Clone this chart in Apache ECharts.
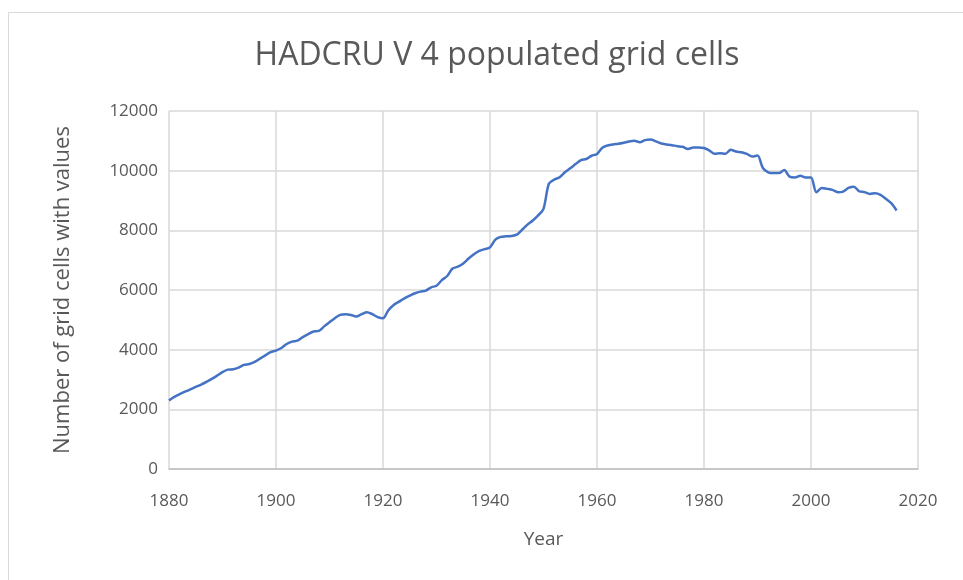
<!DOCTYPE html>
<html>
<head>
<meta charset="utf-8">
<script src="https://cdn.jsdelivr.net/npm/echarts@6/dist/echarts.min.js"></script>
<style>html,body{margin:0;padding:0;background:#fff}#c{width:963px;height:580px}</style>
</head>
<body>
<div id="c"></div>
<script>
const titleText = 'HADCRU V 4 populated grid cells';
const xName = 'Year';
const yName = 'Number of grid cells with values';
const startYear = 1880;
const cellCounts = [
  2300, 2420, 2510, 2590, 2670, 2750, 2830, 2920, 3020, 3130,
  3250, 3330, 3345, 3400, 3490, 3520, 3590, 3700, 3810, 3920,
  3970, 4055, 4190, 4270, 4300, 4420, 4520, 4610, 4630, 4780,
  4920, 5055, 5165, 5190, 5165, 5110, 5190, 5255, 5190, 5090,
  5050, 5320, 5500, 5610, 5720, 5810, 5890, 5945, 5980, 6090,
  6145, 6330, 6470, 6720, 6780, 6890, 7055, 7200, 7310, 7370,
  7430, 7690, 7780, 7800, 7810, 7855, 8020, 8190, 8330, 8500,
  8720, 9560, 9700, 9780, 9945, 10080, 10220, 10355, 10390, 10500,
  10560, 10770, 10845, 10880, 10900, 10935, 10980, 11000, 10955, 11025,
  11045, 10980, 10910, 10880, 10855, 10820, 10800, 10730, 10775, 10775,
  10760, 10675, 10565, 10585, 10565, 10700, 10640, 10620, 10565, 10475,
  10505, 10090, 9945, 9920, 9920, 10020, 9800, 9775, 9830, 9775,
  9775, 9280, 9420, 9390, 9355, 9280, 9300, 9420, 9465, 9310,
  9280, 9220, 9245, 9190, 9055, 8910, 8665
];
const years = cellCounts.map((v, i) => startYear + i);
const seriesData = years.map((y, i) => [y, cellCounts[i]]);

const chart = echarts.init(document.getElementById('c'));
const font = '"Open Sans", "Liberation Sans", sans-serif';
chart.setOption({
  backgroundColor: '#ffffff',
  animation: false,
  graphic: [{
    type: 'rect', left: 6, top: 10, silent: true,
    shape: { width: 1000, height: 620 },
    style: { fill: 'none', stroke: '#d9d9d9', lineWidth: 1 }
  }],
  title: {
    text: titleText, left: 492, textAlign: 'center', top: 35,
    textStyle: { fontFamily: font, fontSize: 32, fontWeight: 'normal', color: '#595959' }
  },
  grid: { left: 169, right: 45, top: 111, bottom: 111 },
  xAxis: {
    type: 'value', min: 1880, max: 2020, interval: 20,
    name: xName, nameLocation: 'middle', nameGap: 61,
    nameTextStyle: { fontFamily: font, fontSize: 19, color: '#595959' },
    axisLine: { show: true, lineStyle: { color: '#bfbfbf', width: 1.5 } },
    axisTick: { show: false },
    axisLabel: { fontFamily: font, fontSize: 17, color: '#595959', margin: 24, formatter: v => String(v) },
    splitLine: { show: true, lineStyle: { color: '#d9d9d9', width: 1.5 } }
  },
  yAxis: {
    type: 'value', min: 0, max: 12000, interval: 2000,
    name: yName, nameLocation: 'middle', nameGap: 95,
    nameTextStyle: { fontFamily: font, fontSize: 22, color: '#595959' },
    axisLine: { show: false },
    axisTick: { show: false },
    axisLabel: { fontFamily: font, fontSize: 17, color: '#595959', margin: 11, formatter: v => String(v) },
    splitLine: { show: true, lineStyle: { color: '#d9d9d9', width: 1.5 } }
  },
  series: [{
    type: 'line', data: seriesData, showSymbol: false, smooth: 0.3,
    lineStyle: { color: '#4472c4', width: 2.5 },
    itemStyle: { color: '#4472c4' }
  }]
});
</script>
</body>
</html>
